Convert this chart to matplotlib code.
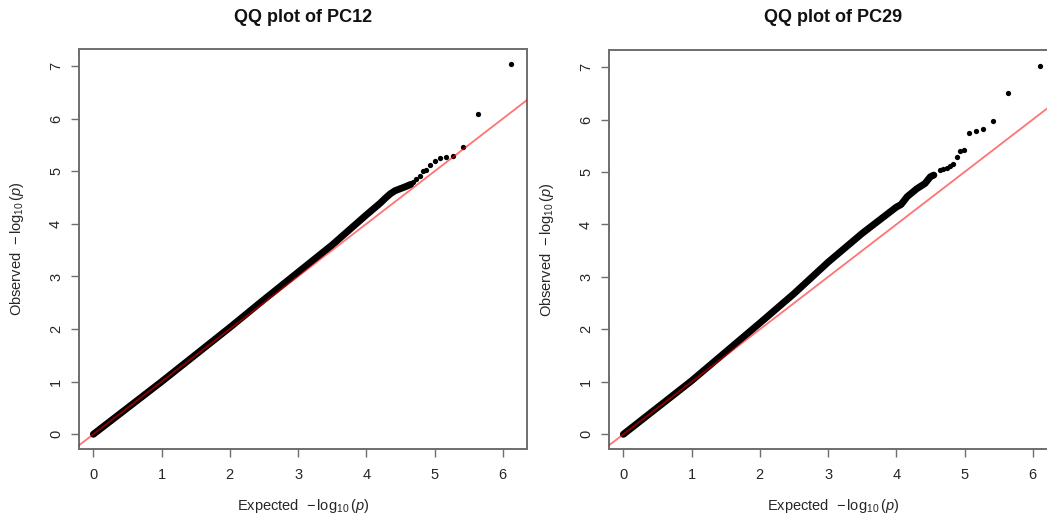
import matplotlib
matplotlib.use("Agg")
import matplotlib.pyplot as plt

plt.rcParams["font.family"] = ["Liberation Sans", "DejaVu Sans"]
plt.rcParams["mathtext.fontset"] = "custom"
plt.rcParams["mathtext.rm"] = "Liberation Sans"
plt.rcParams["mathtext.it"] = "Liberation Sans:italic"
plt.rcParams["mathtext.bf"] = "Liberation Sans:bold"

# ---- data: expected vs observed -log10(p) ----
titles = ["QQ plot of PC12", "QQ plot of PC29"]

# bulk of the points (dense band)
pc12_band_exp = [0.0, 1.0, 2.0, 2.5, 3.0, 3.5, 4.0, 4.20, 4.28, 4.35, 4.42, 4.48, 4.58, 4.65]
pc12_band_obs = [0.0, 1.0, 2.03, 2.56, 3.08, 3.60, 4.17, 4.39, 4.49, 4.57, 4.63, 4.66, 4.71, 4.75]
# most significant tail points
pc12_tail_exp = [4.69, 4.73, 4.78, 4.83, 4.87, 4.94, 5.00, 5.08, 5.17, 5.27, 5.42, 5.64, 6.12]
pc12_tail_obs = [4.80, 4.85, 4.91, 5.01, 5.02, 5.12, 5.20, 5.25, 5.27, 5.30, 5.46, 6.09, 7.04]

pc29_band_exp = [0.0, 1.0, 2.0, 2.5, 3.0, 3.5, 4.0, 4.07, 4.16, 4.30, 4.42, 4.50, 4.55]
pc29_band_obs = [0.0, 1.02, 2.12, 2.68, 3.28, 3.83, 4.33, 4.38, 4.53, 4.68, 4.78, 4.91, 4.94]
pc29_tail_exp = [4.64, 4.69, 4.74, 4.78, 4.83, 4.89, 4.94, 4.99, 5.07, 5.17, 5.27, 5.42, 5.64, 6.11]
pc29_tail_obs = [5.03, 5.06, 5.08, 5.12, 5.15, 5.28, 5.40, 5.42, 5.74, 5.79, 5.82, 5.97, 6.51, 7.02]

x_ticks = [0, 1, 2, 3, 4, 5, 6]
y_ticks = [0, 1, 2, 3, 4, 5, 6, 7]

panels = [
    (titles[0], pc12_band_exp, pc12_band_obs, pc12_tail_exp, pc12_tail_obs),
    (titles[1], pc29_band_exp, pc29_band_obs, pc29_tail_exp, pc29_tail_obs),
]

W, H = 1047, 519
fig = plt.figure(figsize=(W / 100, H / 100), dpi=100)

# axes boxes in pixels: (left, top, right, bottom) and y-label centre x
boxes = [(79, 49, 527, 449, 17.5), (609, 50, 1057, 449, 547.5)]

text_col = "#262626"
frame_col = "#6e6e6e"

for (title, bx, by, tx, ty), (l, t, r, b, ylab_x) in zip(panels, boxes):
    ax = fig.add_axes([l / W, 1 - b / H, (r - l) / W, (b - t) / H])
    ax.set_xlim(-0.21, 6.355)
    ax.set_ylim(-0.28, 7.325)

    ax.plot(bx, by, color="black", lw=5.0, solid_capstyle="round",
            solid_joinstyle="round", zorder=2)
    ax.plot(tx, ty, "o", color="black", ms=3.8, mec="none", zorder=2)
    ax.axline((0, 0), slope=1, color="red", alpha=0.55, lw=1.3, zorder=3)

    ax.set_xticks(x_ticks)
    ax.set_yticks(y_ticks)
    ax.tick_params(direction="out", length=5.5, width=1.0, color=frame_col,
                   labelsize=10.5, labelcolor=text_col)
    ax.tick_params(axis="x", pad=8)
    ax.tick_params(axis="y", pad=6, labelrotation=90)
    for lab in ax.get_yticklabels():
        lab.set_va("center")
    for s in ax.spines.values():
        s.set_color(frame_col)
        s.set_linewidth(1.4)

    ax.set_xlabel(r"Expected  $-\,\log_{10}(\mathit{p})$", fontsize=10.5,
                  color=text_col)
    ax.xaxis.set_label_coords(0.5, (b - 506) / (b - t))
    ax.xaxis.label.set_va("center")
    ax.set_ylabel(r"Observed  $-\,\log_{10}(\mathit{p})$", fontsize=10.5,
                  color=text_col)
    ax.yaxis.set_label_coords((ylab_x - l) / (r - l), 0.5)
    ax.yaxis.label.set_va("center")

    ax.text(0.5, (b - 17) / (b - t), title, transform=ax.transAxes,
            ha="center", va="center", fontsize=13, fontweight="bold",
            color="#111111")

fig.savefig("out.png", dpi=100)
